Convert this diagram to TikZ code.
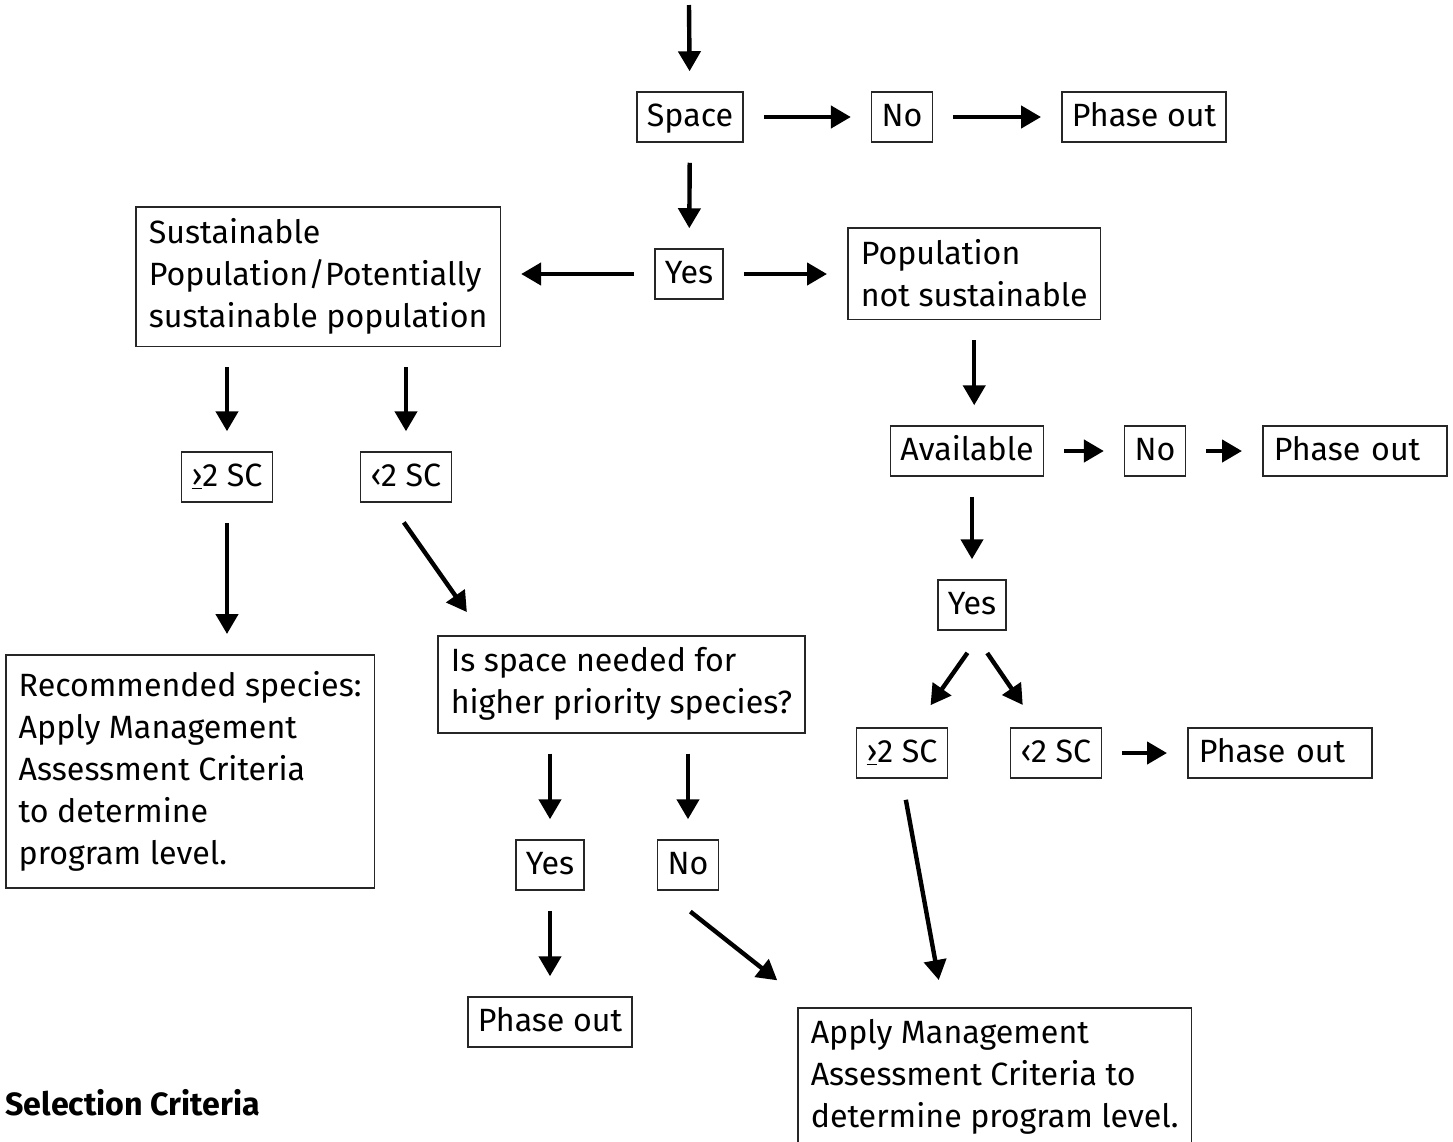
\documentclass[tikz,border=0pt]{standalone}
\usepackage{fontspec}
\setmainfont{Fira Sans}
\usetikzlibrary{arrows.meta}
\newcommand{\flowfont}{\fontsize{16.1}{21}\selectfont}
\tikzset{
    flow-box/.style = {draw=black!85, line width=0.75pt, rectangle, inner xsep=5pt, inner ysep=4pt, text height=13pt, text depth=4pt, font=\flowfont},
    wide-box/.style = {flow-box, anchor=west, align=left, text width=81pt, inner xsep=5.5pt},
    text-box/.style = {draw=black!85, line width=0.75pt, rectangle, anchor=north west, align=left, inner xsep=6.5pt, inner ysep=6pt, font=\flowfont},
    flow-arrow/.style = {-{Triangle[length=10pt, width=11pt]}, line width=2.2pt, shorten <=10pt, shorten >=10pt},
}

\begin{document}
\begin{tikzpicture}[x=0.5pt, y=-0.5pt]
\useasboundingbox (0,0) rectangle (1453,1142);
\clip (0,0) rectangle (1453,1142);

% top row
\coordinate (start) at (689,5);
\node[flow-box] (space) at (690,117) {Space};
\node[flow-box] (noA) at (902,117) {No};
\node[flow-box] (outA) at (1144,117) {Phase out};
\node[flow-box] (yesA) at (689,274) {Yes};
\node[text-box] (sust) at (135,206) {Sustainable\\Population/Potentially\\sustainable population};
\node[text-box] (popns) at (847,227) {Population\\not sustainable};

% right branch
\node[flow-box] (avail) at (967,451) {Available};
\node[flow-box] (noB) at (1155,451) {No};
\node[wide-box] (outB) at (1262,451) {Phase out};
\node[flow-box] (yesB) at (972,605) {Yes};
\node[flow-box] (geR) at (902,753) {\underline{›}2 SC};
\node[flow-box] (ltR) at (1056,753) {‹2 SC};
\node[wide-box] (outC) at (1187,753) {Phase out};
\node[text-box] (apply) at (797,1007) {Apply Management\\Assessment Criteria to\\determine program level.};

% left branch
\node[flow-box] (geL) at (227,477) {\underline{›}2 SC};
\node[flow-box] (ltL) at (406,477) {‹2 SC};
\node[text-box, minimum height=116.5pt] (recom) at (5,654) {Recommended species:\\Apply Management\\Assessment Criteria\\to determine\\program level.};
\node[text-box] (needed) at (437,635) {Is space needed for\\higher priority species?};
\node[flow-box] (yesC) at (550,865) {Yes};
\node[flow-box] (noC) at (688,865) {No};
\node[flow-box] (outD) at (550,1022) {Phase out};

\node[anchor=west, inner sep=0pt, font=\flowfont\bfseries] (title) at (5,1103) {Selection Criteria};

% arrows
\draw[flow-arrow, shorten <=0pt] (start) -- (space);
\draw[flow-arrow] (space) -- (noA);
\draw[flow-arrow] (noA) -- (outA);
\draw[flow-arrow] (space) -- (yesA);
\draw[flow-arrow] (yesA) -- (sust.east |- yesA.west);
\draw[flow-arrow] (yesA) -- (popns.west |- yesA.east);
\draw[flow-arrow] (popns.south) -- (popns.south |- avail.north);
\draw[flow-arrow] (avail) -- (noB);
\draw[flow-arrow] (noB) -- (outB);
\draw[flow-arrow] (yesB.north |- avail.south) -- (yesB.north);
\draw[flow-arrow, shorten <=13.5pt, shorten >=13.5pt] ([xshift=5.5pt]yesB.south) -- ([xshift=6.5pt]geR.north);
\draw[flow-arrow, shorten <=13.5pt, shorten >=13.5pt] (yesB.south) -- ([xshift=-9pt]ltR.north);
\draw[flow-arrow] (ltR) -- (outC);
\draw[flow-arrow, shorten <=10.7pt, shorten >=13.7pt] (geR.south) -- ([xshift=-25.5pt]apply.north);
\draw[flow-arrow] (geL.north |- sust.south) -- (geL.north);
\draw[flow-arrow] (ltL.north |- sust.south) -- (ltL.north);
\draw[flow-arrow] (geL.south) -- (geL.south |- recom.north);
\draw[flow-arrow, shorten <=12pt, shorten >=14pt] ([xshift=-8pt]ltL.south) -- ([xshift=23pt]needed.north west);
\draw[flow-arrow] (yesC.north |- needed.south) -- (yesC.north);
\draw[flow-arrow] (noC.north |- needed.south) -- (noC.north);
\draw[flow-arrow] (yesC) -- (outD);
\draw[flow-arrow, shorten <=16.8pt, shorten >=21.5pt] ([xshift=-12pt]noC.south) -- ([xshift=7pt]apply.north west);
\end{tikzpicture}
\end{document}
